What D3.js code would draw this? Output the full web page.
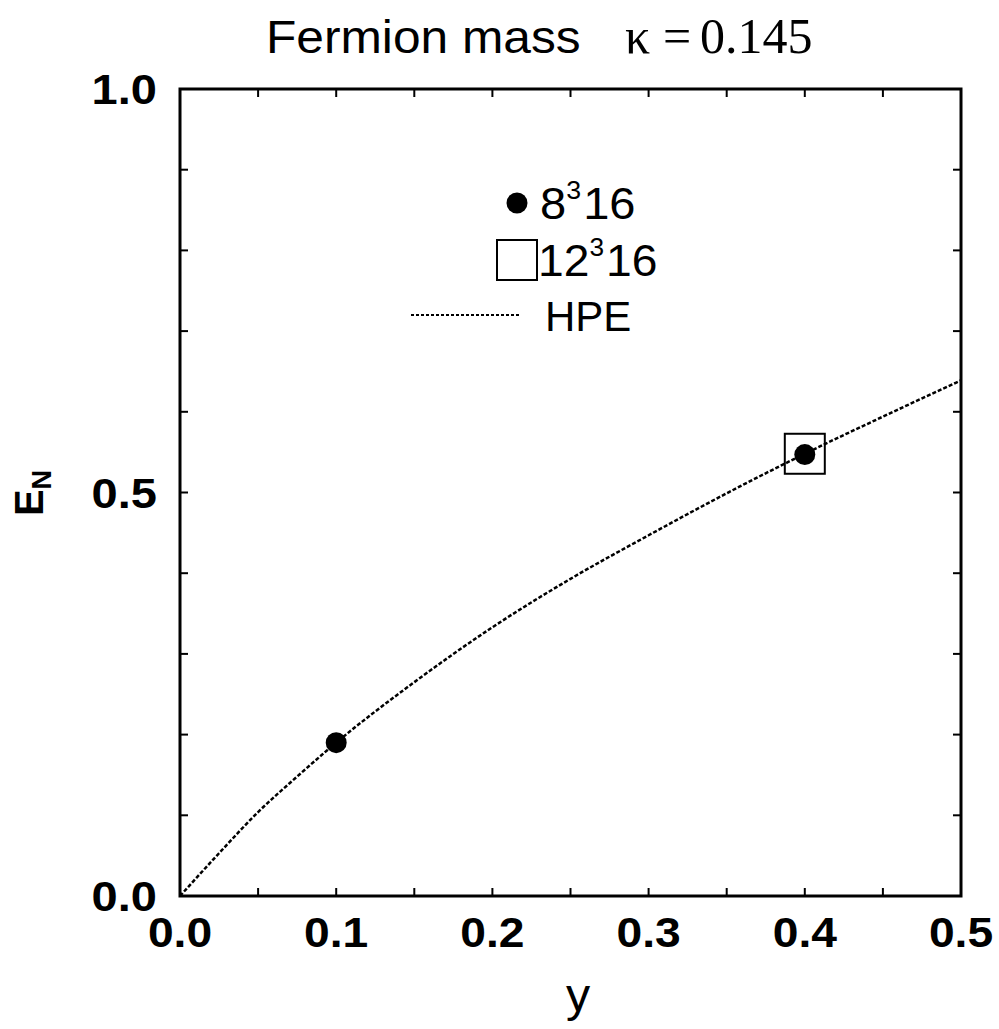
<!DOCTYPE html>
<html><head><meta charset="utf-8">
<script src="https://cdn.jsdelivr.net/npm/d3@7"></script>
<style>body{margin:0;background:#fff}svg{display:block}</style>
</head><body>
<script>
// Data
const xTicksMajor = [0, 0.1, 0.2, 0.3, 0.4, 0.5];
const xTicksMinor = [0.05, 0.1, 0.15, 0.2, 0.25, 0.3, 0.35, 0.4, 0.45];
const yTicksLabeled = [0, 0.5, 1.0];
const yTicksMinor = [0.1, 0.2, 0.3, 0.4, 0.5, 0.6, 0.7, 0.8, 0.9];
const series8 = [{y: 0.1, e: 0.19}, {y: 0.4, e: 0.547}];
const series12 = [{y: 0.4, e: 0.548}];
const hpeY = [0, 0.025, 0.05, 0.075, 0.1, 0.15, 0.2, 0.25, 0.3, 0.35, 0.4, 0.45, 0.5];
const hpeE = [0, 0.053, 0.104, 0.148, 0.19, 0.265, 0.333, 0.393, 0.447, 0.499, 0.548, 0.594, 0.639];

const W = 999, H = 1029;
const m = {left: 180, right: 961, top: 89, bottom: 896};
const svg = d3.select("body").append("svg").attr("width", W).attr("height", H);
const x = d3.scaleLinear().domain([0, 0.5]).range([m.left, m.right]);
const y = d3.scaleLinear().domain([0, 1]).range([m.bottom, m.top]);
const sans = "'Liberation Sans', Arial, sans-serif";
const serif = "'Liberation Serif', 'Times New Roman', serif";

// stretched text helper
function stext(px, py, sx, opts) {
  const t = svg.append("text")
    .attr("transform", `translate(${px},${py}) scale(${sx},1)`)
    .attr("font-family", opts.family || sans)
    .attr("font-size", opts.size)
    .attr("font-weight", opts.weight || "normal")
    .attr("text-anchor", opts.anchor || "start");
  if (opts.text !== undefined) t.text(opts.text);
  return t;
}

// ticks (inward)
const tl = 8;
const g = svg.append("g").attr("stroke", "#000").attr("stroke-width", 2);
xTicksMinor.forEach(v => {
  g.append("line").attr("x1", x(v)).attr("x2", x(v)).attr("y1", m.bottom).attr("y2", m.bottom - tl);
  g.append("line").attr("x1", x(v)).attr("x2", x(v)).attr("y1", m.top).attr("y2", m.top + tl);
});
yTicksMinor.forEach(v => {
  g.append("line").attr("y1", y(v)).attr("y2", y(v)).attr("x1", m.left).attr("x2", m.left + tl);
  g.append("line").attr("y1", y(v)).attr("y2", y(v)).attr("x1", m.right).attr("x2", m.right - tl);
});
svg.append("rect").attr("x", m.left).attr("y", m.top).attr("width", m.right - m.left).attr("height", m.bottom - m.top)
  .attr("fill", "none").attr("stroke", "#000").attr("stroke-width", 3);

// tick labels
xTicksMajor.forEach(d => stext(x(d), 947, 1.1, {size: 42, weight: "bold", anchor: "middle", text: d.toFixed(1)}));
yTicksLabeled.forEach(d => stext(157, y(d) + 15, 1.12, {size: 42, weight: "bold", anchor: "end", text: d.toFixed(1)}));

// HPE curve
const hpe = hpeY.map((v, i) => ({y: v, e: hpeE[i]}));
svg.append("path").datum(hpe)
  .attr("d", d3.line().x(d => x(d.y)).y(d => y(d.e)).curve(d3.curveMonotoneX))
  .attr("fill", "none").attr("stroke", "#000").attr("stroke-width", 2.5).attr("stroke-dasharray", "4,2");

// markers
svg.selectAll(".sq").data(series12).enter().append("rect")
  .attr("x", d => x(d.y) - 20).attr("y", d => y(d.e) - 20).attr("width", 40).attr("height", 40)
  .attr("fill", "none").attr("stroke", "#000").attr("stroke-width", 2);
svg.selectAll(".ci").data(series8).enter().append("circle")
  .attr("cx", d => x(d.y)).attr("cy", d => y(d.e)).attr("r", 10.5).attr("fill", "#000");

// legend
svg.append("circle").attr("cx", 517).attr("cy", 203).attr("r", 10.5).attr("fill", "#000");
const t1 = stext(540, 219, 1.07, {size: 44});
t1.append("tspan").text("8");
t1.append("tspan").attr("dy", -20).attr("font-size", 25).text("3");
t1.append("tspan").attr("dy", 20).attr("dx", 2).text("16");
svg.append("rect").attr("x", 497).attr("y", 240).attr("width", 40).attr("height", 40).attr("fill", "none").attr("stroke", "#000").attr("stroke-width", 2);
const t2 = stext(538, 276, 1.05, {size: 44});
t2.append("tspan").text("12");
t2.append("tspan").attr("dy", -20).attr("font-size", 25).text("3");
t2.append("tspan").attr("dy", 20).attr("dx", 2).text("16");
svg.append("line").attr("x1", 411).attr("x2", 520).attr("y1", 315).attr("y2", 315)
  .attr("stroke", "#000").attr("stroke-width", 2).attr("stroke-dasharray", "3,2");
stext(545, 331, 1.0, {size: 42, text: "HPE"});

// title
stext(266, 53, 1.08, {size: 46, text: "Fermion mass"});
stext(625, 53, 1.0, {size: 50, family: serif, text: "κ"});
stext(663, 53, 1.0, {size: 50, family: serif, text: "="});
stext(700, 53, 1.0, {size: 50, family: serif, text: "0.145"});

// axis titles
stext(578, 1011, 1.05, {size: 46, anchor: "middle", text: "y"});
const yt = svg.append("text").attr("transform", "translate(43,493) rotate(-90)").attr("text-anchor", "middle")
  .attr("font-family", sans).attr("font-weight", "bold").attr("font-size", 40);
yt.append("tspan").text("E");
yt.append("tspan").attr("dy", 8).attr("font-size", 27).text("N");
</script>
</body></html>
